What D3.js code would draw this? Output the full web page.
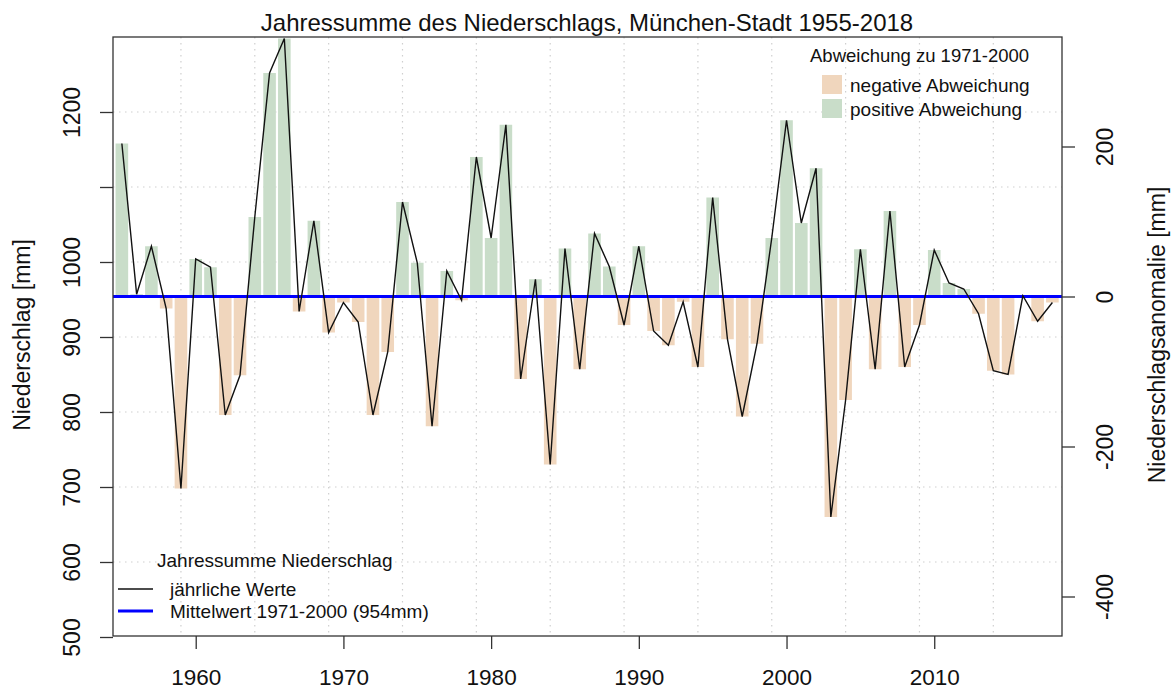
<!DOCTYPE html>
<html>
<head>
<meta charset="utf-8">
<script src="https://cdn.jsdelivr.net/npm/d3@7"></script>
<style>
  body { margin: 0; background: #fff; }
  svg { font-family: "Liberation Sans", Arial, sans-serif; }
</style>
</head>
<body>
<div id="chart"></div>
<script>
// annual precipitation, Muenchen-Stadt (mm)
const years = d3.range(1955, 2019);
const values = [
  1158, 957, 1021, 938, 698, 1004, 993, 796, 849, 1060,
  1252, 1298, 934, 1055, 906, 946, 920, 796, 880, 1080,
  999, 781, 988, 949, 1140, 1032, 1183, 844, 977, 730,
  1018, 857, 1038, 994, 916, 1021, 908, 889, 947, 860,
  1086, 897, 794, 891, 1032, 1189, 1052, 1125, 660, 816,
  1017, 857, 1068, 860, 916, 1016, 972, 964, 931, 855,
  850, 955, 921, 946
];
const mean = 954;
const leftTicks = [500, 600, 700, 800, 900, 1000, 1100, 1200];
const leftLabels = [500, 600, 700, 800, 900, 1000, 1200]; // 1100 label dropped (overlap)
const rightTicks = [-400, -200, 0, 200];
const xTicks = [1960, 1970, 1980, 1990, 2000, 2010];
const gridX = [1959, 1964, 1969, 1974, 1979, 1984, 1989, 1994, 1999, 2004, 2009, 2014];
const gridY = [600, 700, 800, 900, 1000, 1100, 1200];

const width = 1172, height = 691;
const margin = { top: 37, right: 110, bottom: 55, left: 113 };
const plotBottom = 636;

const svg = d3.select('#chart').append('svg')
  .attr('width', width)
  .attr('height', height);

const x = d3.scaleLinear()
  .domain([1954.4, 2018.65])
  .range([margin.left, width - margin.right]);

const y = d3.scaleLinear()
  .domain([500, 1300])
  .range([637, 37]);

const yA = d3.scaleLinear()
  .domain([500 - mean, 1300 - mean])
  .range([637, 37]);

const data = years.map((yr, i) => ({ year: yr, value: values[i] }));

svg.append('clipPath').attr('id', 'clip')
  .append('rect')
  .attr('x', margin.left).attr('y', margin.top)
  .attr('width', x.range()[1] - margin.left)
  .attr('height', plotBottom - margin.top);

// grid
const grid = svg.append('g')
  .attr('stroke', '#cfcfcf')
  .attr('stroke-dasharray', '1.5,4.5')
  .attr('stroke-width', 1.2);
grid.selectAll('.gx').data(gridX).join('line')
  .attr('x1', d => x(d)).attr('x2', d => x(d))
  .attr('y1', margin.top).attr('y2', plotBottom);
grid.selectAll('.gy').data(gridY).join('line')
  .attr('x1', margin.left).attr('x2', x.range()[1])
  .attr('y1', d => y(d)).attr('y2', d => y(d));

// anomaly bars
const bw = 12.6;
svg.append('g').attr('clip-path', 'url(#clip)')
  .selectAll('rect').data(data).join('rect')
  .attr('x', d => x(d.year) - bw / 2)
  .attr('width', bw)
  .attr('y', d => y(Math.max(d.value, mean)))
  .attr('height', d => Math.abs(y(d.value) - y(mean)))
  .attr('fill', d => d.value >= mean ? '#c9ddc9' : '#f0d6bd');

// mean line
svg.append('line')
  .attr('x1', margin.left).attr('x2', x.range()[1])
  .attr('y1', y(mean)).attr('y2', y(mean))
  .attr('stroke', '#0000ff').attr('stroke-width', 3);

// annual values
svg.append('path')
  .datum(data)
  .attr('clip-path', 'url(#clip)')
  .attr('fill', 'none')
  .attr('stroke', '#111')
  .attr('stroke-width', 1.4)
  .attr('d', d3.line().x(d => x(d.year)).y(d => y(d.value)));

// box
svg.append('rect')
  .attr('x', margin.left).attr('y', margin.top)
  .attr('width', x.range()[1] - margin.left)
  .attr('height', plotBottom - margin.top)
  .attr('fill', 'none')
  .attr('stroke', '#333').attr('stroke-width', 1.3);

// axes
const tickFont = '23px';
function styleAxis(g) {
  g.select('.domain').remove();
  g.selectAll('.tick line').attr('stroke', '#333').attr('stroke-width', 1.3);
  g.selectAll('.tick text').attr('fill', '#111').attr('font-size', tickFont)
    .attr('font-family', '"Liberation Sans", Arial, sans-serif');
}

svg.append('g')
  .attr('transform', `translate(${margin.left},0)`)
  .call(d3.axisLeft(y).tickValues(leftTicks).tickSize(13).tickPadding(0)
    .tickFormat(d => leftLabels.includes(d) ? String(d) : ''))
  .call(styleAxis)
  .call(g => g.selectAll('.tick text')
    .attr('transform', 'rotate(-90)')
    .attr('x', 0).attr('y', -41).attr('dy', '0.35em')
    .attr('text-anchor', 'middle'));

svg.append('g')
  .attr('transform', `translate(${x.range()[1]},0)`)
  .call(d3.axisRight(yA).tickValues(rightTicks).tickSize(13).tickPadding(0).tickFormat(d => String(d)))
  .call(styleAxis)
  .call(g => g.selectAll('.tick text')
    .attr('transform', 'rotate(-90)')
    .attr('x', 0).attr('y', 43).attr('dy', '0.35em')
    .attr('text-anchor', 'middle'));

svg.append('g')
  .attr('transform', `translate(0,${plotBottom})`)
  .call(d3.axisBottom(x).tickValues(xTicks).tickSize(13).tickPadding(0).tickFormat(d => String(d)))
  .call(styleAxis)
  .call(g => g.selectAll('.tick text').attr('y', 49).attr('dy', 0).attr('font-size', '22.5px'));

// titles
svg.append('text')
  .attr('x', 587).attr('y', 31)
  .attr('text-anchor', 'middle')
  .attr('font-size', '24px').attr('fill', '#111')
  .text('Jahressumme des Niederschlags, München-Stadt 1955-2018');

svg.append('text')
  .attr('transform', 'translate(30,335) rotate(-90)')
  .attr('text-anchor', 'middle')
  .attr('font-size', '23px').attr('fill', '#111')
  .text('Niederschlag [mm]');

svg.append('text')
  .attr('transform', 'translate(1165,335) rotate(-90)')
  .attr('text-anchor', 'middle')
  .attr('font-size', '23px').attr('fill', '#111')
  .text('Niederschlagsanomalie [mm]');

// legend top right
const lg1 = svg.append('g').attr('font-size', '19px').attr('fill', '#111');
lg1.append('text').attr('x', 810).attr('y', 62).attr('font-size', '18.5px').text('Abweichung zu 1971-2000');
[['negative Abweichung', '#f0d6bd'], ['positive Abweichung', '#c9ddc9']].forEach(([label, col], i) => {
  lg1.append('rect').attr('x', 822).attr('y', 75 + i * 24)
    .attr('width', 20).attr('height', 19).attr('fill', col);
  lg1.append('text').attr('x', 850).attr('y', 92 + i * 24).text(label);
});

// legend bottom left
const lg2 = svg.append('g').attr('font-size', '19px').attr('fill', '#111');
lg2.append('text').attr('x', 157).attr('y', 567).text('Jahressumme Niederschlag');
[['jährliche Werte', '#111', 1.3], ['Mittelwert 1971-2000 (954mm)', '#0000ff', 3]].forEach(([label, col, sw], i) => {
  const yy = 589 + i * 22;
  lg2.append('line').attr('x1', 118).attr('x2', 153).attr('y1', yy).attr('y2', yy)
    .attr('stroke', col).attr('stroke-width', sw);
  lg2.append('text').attr('x', 170).attr('y', yy + 7).text(label);
});
</script>
</body>
</html>
